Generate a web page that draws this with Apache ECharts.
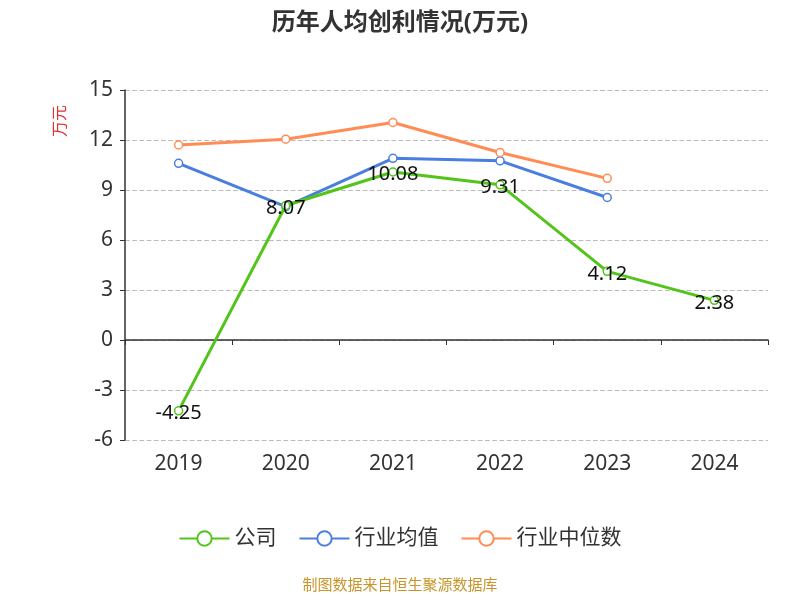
<!DOCTYPE html>
<html><head><meta charset="utf-8">
<script src="https://cdn.jsdelivr.net/npm/echarts@6/dist/echarts.min.js"></script>
<style>html,body{margin:0;padding:0}#c{width:800px;height:600px}</style>
</head><body><div id="c"></div>
<script>
const categories = ['2019','2020','2021','2022','2023','2024'];
const company = [-4.25, 8.07, 10.08, 9.31, 4.12, 2.38];
const industryAvg = [10.6, 8.0, 10.9, 10.75, 8.55, null];
const industryMedian = [11.7, 12.05, 13.05, 11.25, 9.7, null];
const yTicks = {min: -6, max: 15, interval: 3};

const F = "'Noto Sans', 'Noto Sans CJK SC', sans-serif";
const chart = echarts.init(document.getElementById('c'));
const mk = (name, data, color, label) => ({
  name, type: 'line', data, xAxisIndex: 0,
  symbol: 'circle', symbolSize: 8, showAllSymbol: true,
  itemStyle: {color: '#fff', borderColor: color, borderWidth: 1.5},
  lineStyle: {color, width: 3},
  label: label ? {show: true, position: 'bottom', distance: 0, color: '#111', fontSize: 20, fontFamily: F, offset:[0,-12]} : {show: false},
  z: label ? 5 : 3
});
chart.setOption({
  animation: false,
  textStyle: {fontFamily: F},
  title: {text: '历年人均创利情况(万元)', left: 'center', top: 6, textStyle: {fontSize: 24, fontWeight: 'bold', color: '#333', fontFamily: F}},
  grid: {left: 125, right: 32, top: 90, bottom: 160},
  legend: {bottom: 46, itemWidth: 50, itemHeight: 18, itemGap: 22, textStyle: {fontSize: 21, color: '#333', fontFamily: F},
    data: [{name:'公司', itemStyle:{color:'#fff',borderColor:'#52c41a'}},{name:'行业均值', itemStyle:{color:'#fff',borderColor:'#4a7fe0'}},{name:'行业中位数', itemStyle:{color:'#fff',borderColor:'#ff8c55'}}]},
  xAxis: [
    {type: 'category', data: categories, axisLine: {onZero: true, lineStyle: {color: '#333', width: 1.5}}, axisTick: {show: true, lineStyle:{color:'#333'}}, axisLabel: {show: false}},
    {type: 'category', data: categories, position: 'bottom', axisLine: {show: false}, axisTick: {show: false}, axisLabel: {fontSize: 21, color: '#333', margin: 14, fontFamily: F}}
  ],
  yAxis: {type: 'value', min: yTicks.min, max: yTicks.max, interval: yTicks.interval,
    axisLine: {show: true, lineStyle: {color: '#333', width: 1.5}}, axisTick: {show: true},
    axisLabel: {fontSize: 21, color: '#333', margin: 12, fontFamily: F},
    splitLine: {lineStyle: {type: 'dashed', color: '#bbb', width: 1.2}}},
  graphic: [
    {type: 'text', left: 52, top: 105, rotation: Math.PI/2, style: {text: '万元', fill: '#e03030', fontSize: 16, fontFamily: F}},
    {type: 'text', left: 'center', top: 578, style: {text: '制图数据来自恒生聚源数据库', fill: '#c8952a', fontSize: 15, fontFamily: F}}
  ],
  series: [
    mk('公司', company, '#52c41a', true),
    mk('行业均值', industryAvg, '#4a7fe0', false),
    mk('行业中位数', industryMedian, '#ff8c55', false)
  ]
});
</script></body></html>
